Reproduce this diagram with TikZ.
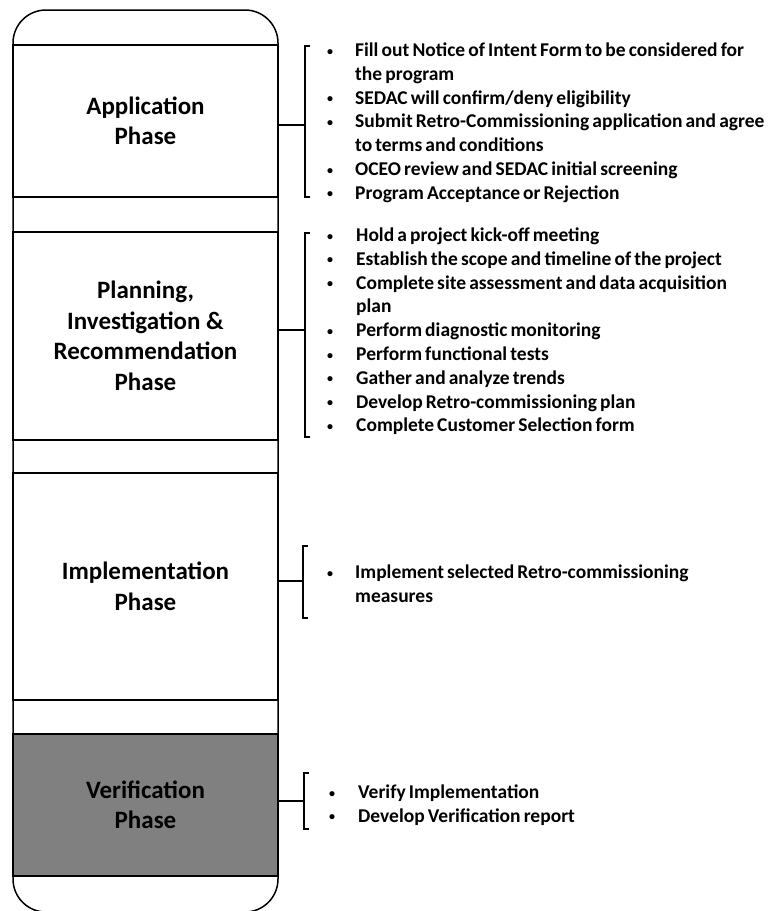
\documentclass[tikz,border=0pt]{standalone}
\usepackage{fontspec}
\setmainfont{Carlito}
\usepackage{array}
\newcommand\bul{\raisebox{1.5pt}{\fontsize{12}{12}\selectfont•}}
\newcommand\itemfont{\fontsize{19.5}{23.8}\selectfont\bfseries\spaceskip 0.16em\relax}
\begin{document}
\begin{tikzpicture}[x=1pt,y=-1pt]
\tikzset{
 phase/.style={draw, line width=1.5pt, minimum width=265pt, minimum height=#1, inner sep=0pt, align=center, font=\fontsize{25}{30.5}\selectfont\bfseries},
 bracketline/.style={line width=1.8pt},
 conn/.style={line width=1.3pt},
 items/.style={anchor=base west, inner sep=0pt, font=\itemfont},
}
\useasboundingbox (0,0) rectangle (768,911);
% container
\draw[line width=1.5pt, rounded corners=33pt] (13,10) rectangle (278,912);
% phases
\node[phase=152pt] (app) at (145.5,121) {Application\\Phase};
\node[phase=208pt] (plan) at (145.5,336) {Planning,\\Investigation \&\\Recommendation\\Phase};
\node[phase=227pt] (impl) at (145.5,586.5) {Implementation\\Phase};
\node[phase=142pt, fill=black!50] (verif) at (145.5,805) {Verification\\Phase};
% brackets
\coordinate (c1) at (278,125); \coordinate (k1) at (305,125);
\coordinate (c2) at (278,330); \coordinate (k2) at (305,330);
\coordinate (c3) at (278,581); \coordinate (k3) at (303,581);
\coordinate (c4) at (278,801); \coordinate (k4) at (304,801);
\draw[conn] (c1) -- (k1);
\draw[conn] (c2) -- (k2);
\draw[conn] (c3) -- (k3);
\draw[conn] (c4) -- (k4);
\draw[bracketline] (310,46) -- (305,46) -- (305,197) -- (310,197);
\draw[bracketline] (310,233) -- (305,233) -- (305,437) -- (310,437);
\draw[bracketline] (308,546) -- (303,546) -- (303,618) -- (308,618);
\draw[bracketline] (309,773) -- (304,773) -- (304,829) -- (309,829);
% item lists
\node[items] (l1) at (327,56.5) {\begin{tabular}[t]{@{}p{28pt}@{}l@{}}
\bul & Fill out Notice of Intent Form to be considered for\\
  & the program\\
\bul & SEDAC will confirm/deny eligibility\\
\bul & Submit Retro-Commissioning application and agree\\
  & to terms and conditions\\
\bul & OCEO review and SEDAC initial screening\\
\bul & Program Acceptance or Rejection
\end{tabular}};
\node[items] (l2) at (327,241.5) {\begin{tabular}[t]{@{}p{29pt}@{}l@{}}
\bul & Hold a project kick-off meeting\\
\bul & Establish the scope and timeline of the project\\
\bul & Complete site assessment and data acquisition\\
  & plan\\
\bul & Perform diagnostic monitoring\\
\bul & Perform functional tests\\
\bul & Gather and analyze trends\\
\bul & Develop Retro-commissioning plan\\
\bul & Complete Customer Selection form
\end{tabular}};
\node[items] (l3) at (327,578.5) {\begin{tabular}[t]{@{}p{28pt}@{}l@{}}
\bul & Implement selected Retro-commissioning\\
  & measures
\end{tabular}};
\node[items] (l4) at (329,798.5) {\begin{tabular}[t]{@{}p{29pt}@{}l@{}}
\bul & Verify Implementation\\
\bul & Develop Verification report
\end{tabular}};
\end{tikzpicture}
\end{document}
